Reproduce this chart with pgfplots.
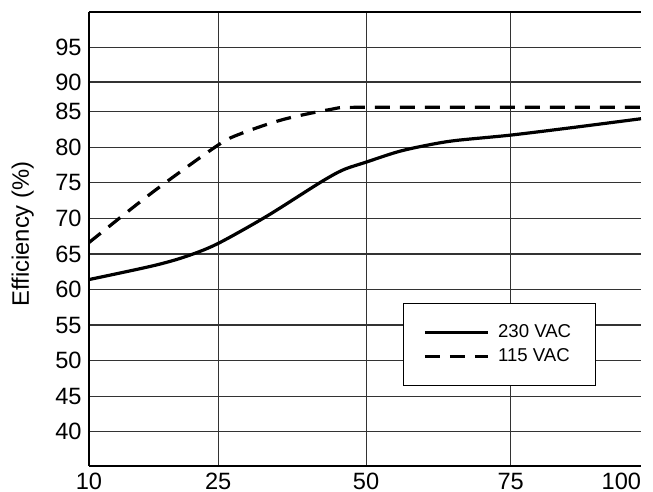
\documentclass[border=0pt]{standalone}
\usepackage{pgfplots}
\pgfplotsset{compat=1.18}
\usepackage{fontspec}
\setmainfont{Liberation Sans}
\begin{document}
\begin{tikzpicture}
\begin{axis}[
    scale only axis,
    width=276pt, height=227pt,
    xmin=0, xmax=100,
    ymin=35.2, ymax=99,
    axis lines=left,
    axis line style={-, line width=0.7pt},
    major tick length=0pt,
    % the load axis is not linear in the original; ticks sit at the printed positions
    xtick={23.4,50.2,76.4},
    xticklabels={25,50,75},
    extra x ticks={0,100},
    extra x tick labels={10,\llap{100}},
    extra x tick style={grid=none},
    ytick={40,45,50,55,60,65,70,75,80,85,89.16,94.03},
    yticklabels={40,45,50,55,60,65,70,75,80,85,90,95},
    tick label style={font=\fontsize{11.8}{13}\selectfont},
    xticklabel style={inner sep=0pt, yshift=-3.5pt},
    yticklabel style={inner sep=0pt, xshift=-3.5pt},
    grid=major,
    grid style={line width=0.6pt, black!80},
    ylabel={Efficiency (\%)},
    ylabel style={at={(axis description cs:-0.12,0.511)}, anchor=center,
        font=\fontsize{11.9}{13}\selectfont},
    legend style={at={(axis cs:56.9,58.1)}, anchor=north west,
        draw=black, line width=0.6pt, fill=white,
        inner xsep=10pt, inner ysep=8.5pt,
        font=\fontsize{9.3}{11}\selectfont,
        /tikz/every odd column/.append style={column sep=2.5pt}},
    legend cell align=left,
    legend image code/.code={\draw[#1, line width=1.2pt] (0pt,0pt) -- (31.5pt,0pt);},
    extra description/.code={\draw[line width=0.7pt] (rel axis cs:0,1) -- (rel axis cs:1,1);},
]
% 230 VAC
\addplot[black, line width=1.6pt, smooth, tension=0.5] coordinates {
    (0, 61.4)
    (11.4, 63.3)
    (17.4, 64.6)
    (23.2, 66.4)
    (32.2, 70.3)
    (41.8, 75.0)
    (46.0, 76.8)
    (50.2, 77.9)
    (55.7, 79.3)
    (60.1, 80.1)
    (66.0, 80.9)
    (76.4, 81.7)
    (88.0, 82.8)
    (100, 84.0)
};
\addlegendentry{230 VAC}
% 115 VAC
\addplot[black, line width=1.6pt, dash pattern=on 7.5pt off 5pt, smooth, tension=0.5] coordinates {
    (0, 66.6)
    (11.4, 73.6)
    (23.2, 80.2)
    (27.5, 81.9)
    (35.2, 83.9)
    (43.7, 85.3)
    (48.0, 85.6)
    (70, 85.6)
    (100, 85.6)
};
\addlegendentry{115 VAC}
\end{axis}
\path (current axis.south west) ++(-44.5pt,-13pt) coordinate (bbA);
\path (current axis.north east) ++(6pt,6pt) coordinate (bbB);
\pgfresetboundingbox
\path[use as bounding box] (bbA) rectangle (bbB);
\end{tikzpicture}
\end{document}
